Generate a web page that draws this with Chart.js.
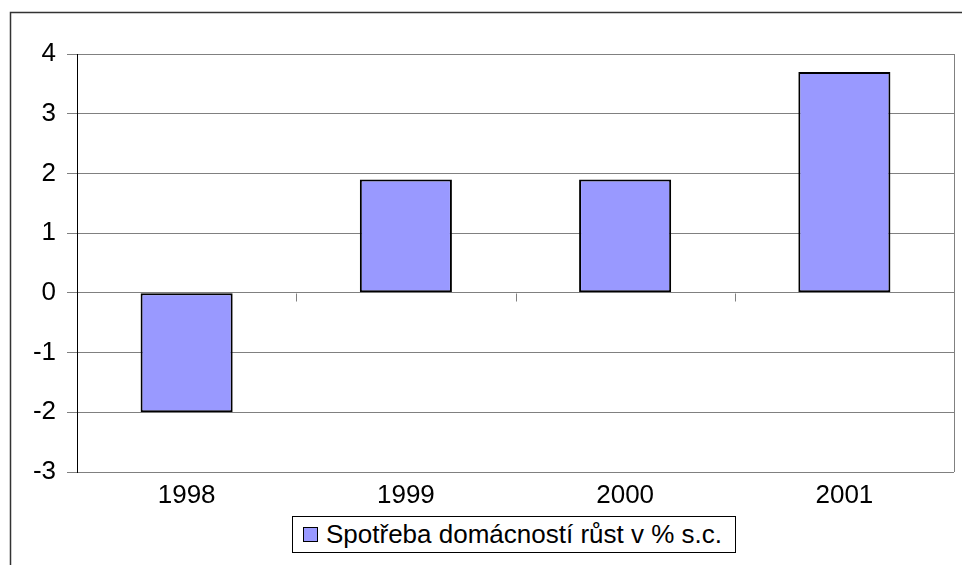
<!DOCTYPE html>
<html>
<head>
<meta charset="utf-8">
<script src="https://cdn.jsdelivr.net/npm/chart.js@4"></script>
<style>
  html, body { margin: 0; padding: 0; background: #fff; }
  #wrap { position: relative; width: 962px; height: 565px; overflow: hidden; }
  #legend {
    position: absolute; left: 292px; top: 516px; width: 442px; height: 35px;
    border: 1px solid #000; background: #fff;
    font-family: 'Liberation Sans', Arial, sans-serif; font-size: 26px; color: #000;
    display: flex; align-items: center; white-space: nowrap;
  }
  #legend .swatch {
    display: inline-block; width: 13px; height: 13px; margin: 0 8px 0 10px;
    background: #9999FF; border: 1.5px solid #000;
  }
</style>
</head>
<body>
<div id="wrap">
  <canvas id="chart" width="962" height="565"></canvas>
  <div id="legend"><span class="swatch"></span><span id="legendText"></span></div>
</div>
<script>
const years = ['1998', '1999', '2000', '2001'];
const growth = [-2, 1.9, 1.9, 3.7];
const seriesName = 'Spotřeba domácností růst v % s.c.';
const yMin = -3;
const yMax = 4;

const FONT = 'Liberation Sans, Arial, sans-serif';

document.getElementById('legendText').textContent = seriesName;

// outer frame, zero-line category ticks, right border (Excel style)
const extras = {
    id: 'extras',
    afterDraw(chart) {
        const ctx = chart.ctx;
        const xs = chart.scales.x;
        const ys = chart.scales.y;
        ctx.save();

        ctx.strokeStyle = '#333';
        ctx.lineWidth = 1.5;
        ctx.strokeRect(10.5, 12.5, 1000, 600);

        const y0 = Math.round(ys.getPixelForValue(0)) + 0.5;
        ctx.strokeStyle = '#808080';
        ctx.lineWidth = 1;
        for (let i = 0; i < years.length - 1; i++) {
            const xb = Math.round((xs.getPixelForTick(i) + xs.getPixelForTick(i + 1)) / 2) + 0.5;
            ctx.beginPath();
            ctx.moveTo(xb, y0);
            ctx.lineTo(xb, y0 + 8);
            ctx.stroke();
        }

        const ca = chart.chartArea;
        ctx.beginPath();
        ctx.moveTo(Math.round(ca.right) + 0.5, ca.top);
        ctx.lineTo(Math.round(ca.right) + 0.5, ca.bottom);
        ctx.stroke();
        ctx.restore();
    }
};

new Chart(document.getElementById('chart'), {
    type: 'bar',
    data: {
        labels: years,
        datasets: [{
            label: seriesName,
            data: growth,
            backgroundColor: '#9999FF',
            borderColor: '#000',
            borderWidth: 2,
            borderSkipped: false,
            barPercentage: 0.42,
            categoryPercentage: 1
        }]
    },
    options: {
        responsive: false,
        animation: false,
        layout: { padding: { top: 54, right: 8, left: 0, bottom: 51 } },
        plugins: {
            tooltip: { enabled: false },
            legend: { display: false }
        },
        scales: {
            x: {
                grid: { display: false, drawTicks: false },
                border: { display: false },
                ticks: { color: '#000', font: { family: FONT, size: 26 }, padding: 8 },
                afterFit(scale) { scale.height = 42; }
            },
            y: {
                min: yMin,
                max: yMax,
                ticks: { stepSize: 1, color: '#000', font: { family: FONT, size: 26 }, padding: 11 },
                grid: { color: '#808080', tickLength: 10, tickColor: '#808080' },
                border: { color: '#000', width: 1 },
                afterFit(scale) { scale.width = 77; }
            }
        }
    },
    plugins: [extras]
});
</script>
</body>
</html>
